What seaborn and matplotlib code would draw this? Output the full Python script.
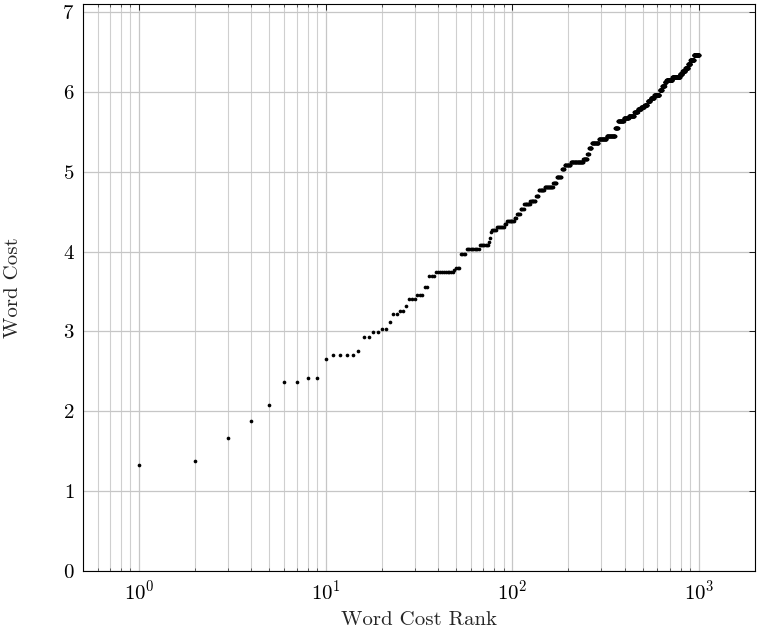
import numpy as np
import pandas as pd
import matplotlib
matplotlib.use("Agg")
import matplotlib.pyplot as plt
import seaborn as sns
from matplotlib.ticker import LogLocator, LogFormatterSciNotation, FixedLocator

# ---- data (run-length encoded cost levels by rank) ----
cost_levels = [1.33, 1.375, 1.66, 1.88, 2.08, 2.37, 2.42, 2.66, 2.70, 2.75,
               2.93, 2.99, 3.03, 3.12, 3.22, 3.26, 3.32, 3.41, 3.46, 3.55,
               3.70, 3.74, 3.77, 3.80, 3.97, 4.03, 4.08, 4.12, 4.17, 4.25,
               4.27, 4.31, 4.34, 4.38, 4.42, 4.47, 4.53, 4.59, 4.63, 4.70,
               4.77, 4.81, 4.86, 4.93, 5.03, 5.08, 5.12, 5.16, 5.22, 5.30,
               5.36, 5.41, 5.45, 5.55, 5.63, 5.67, 5.70, 5.75, 5.78, 5.81,
               5.84, 5.88, 5.92, 5.96, 6.02, 6.07, 6.12, 6.15, 6.18, 6.22,
               6.26, 6.30, 6.35, 6.40, 6.46]
level_counts = [1, 1, 1, 1, 1, 2, 2, 1, 4, 1,
                2, 2, 2, 1, 2, 2, 1, 3, 3, 2,
                3, 10, 1, 3, 4, 10, 8, 1, 1, 1,
                5, 8, 3, 9, 3, 5, 5, 9, 9, 5,
                10, 17, 7, 11, 7, 15, 35, 12, 5, 9,
                24, 30, 35, 13, 27, 25, 30, 20, 20, 20,
                20, 20, 25, 40, 20, 20, 15, 50, 70, 25,
                30, 30, 25, 40, 60]

y_ticks = [0, 1, 2, 3, 4, 5, 6, 7]
x_label = "Word Cost Rank"
y_label = "Word Cost"

word_cost = np.repeat(cost_levels, level_counts)
rank = np.arange(1, len(word_cost) + 1)
df = pd.DataFrame({"rank": rank, "cost": word_cost})

sns.set_style("white")
plt.rcParams["font.family"] = ["cmr10", "DejaVu Serif"]
plt.rcParams["mathtext.fontset"] = "cm"
plt.rcParams["axes.formatter.use_mathtext"] = True
plt.rcParams["axes.unicode_minus"] = False

fig = plt.figure(figsize=(7.6, 6.28), dpi=100)
ax = fig.add_axes([0.109, 0.0908, 0.8844, 0.9028])

sns.scatterplot(data=df, x="rank", y="cost", ax=ax, color="black",
                s=7, linewidth=0, marker="o", zorder=3)

ax.set_xscale("log")
ax.set_xlim(0.5, 2000)
ax.set_ylim(0, 7.1)

ax.xaxis.set_major_locator(LogLocator(base=10, numticks=10))
ax.xaxis.set_minor_locator(LogLocator(base=10, subs=np.arange(2, 10), numticks=20))
ax.xaxis.set_major_formatter(LogFormatterSciNotation())
ax.yaxis.set_major_locator(FixedLocator(y_ticks))

ax.grid(True, which="major", axis="both", color="#c6c6c6", linewidth=0.9, zorder=0)
ax.grid(True, which="minor", axis="x", color="#cfcfcf", linewidth=0.8, zorder=0)
ax.set_axisbelow(True)

ax.tick_params(axis="both", which="major", direction="in", length=4, width=0.6,
               labelsize=15, pad=6, colors="black", top=True, right=True)
ax.tick_params(axis="x", which="minor", direction="in", length=2, width=0.5,
               top=True, bottom=True)

for sp in ax.spines.values():
    sp.set_color("black")
    sp.set_linewidth(0.8)

ax.set_xlabel(x_label, fontsize=15, labelpad=5)
ax.set_ylabel(y_label, fontsize=15, labelpad=29)

fig.savefig("out.png", dpi=100)
